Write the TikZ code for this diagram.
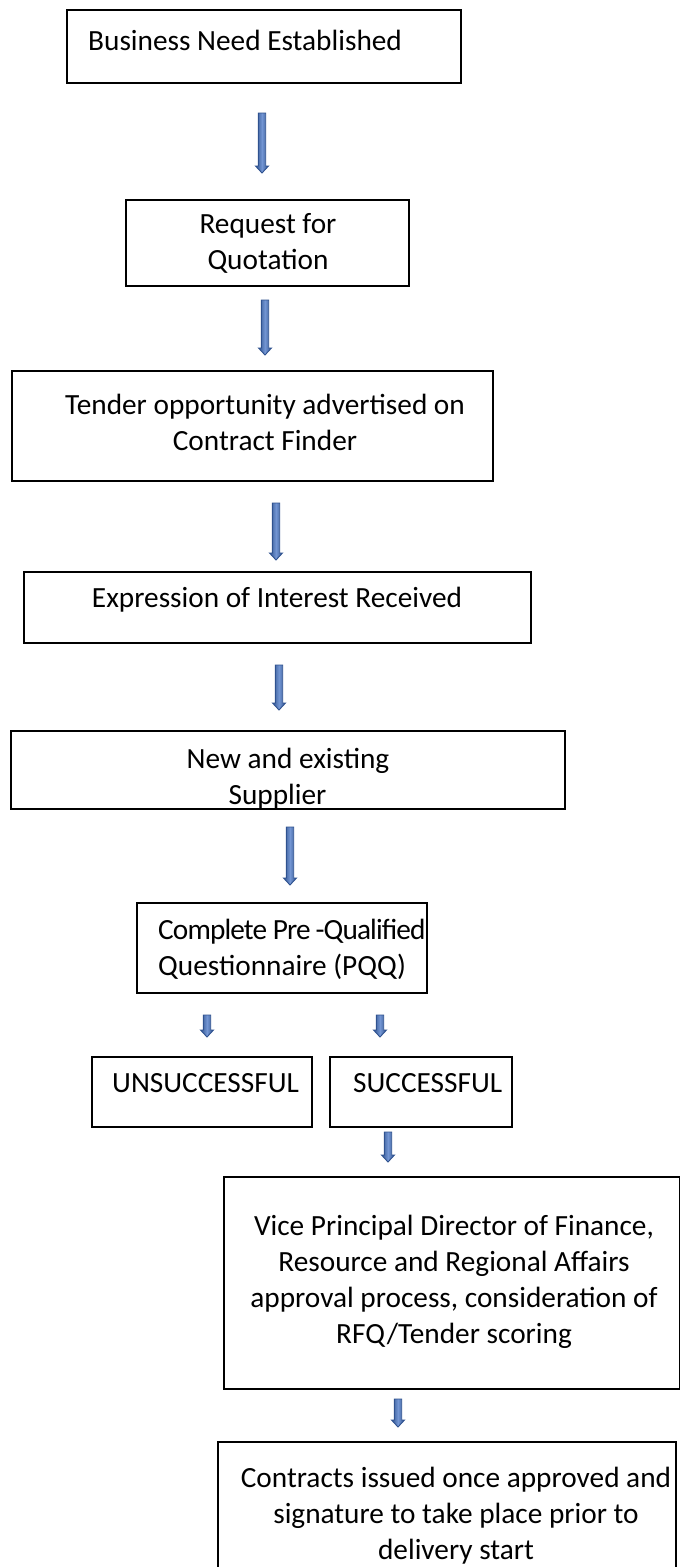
\documentclass[tikz,border=0pt]{standalone}
\usepackage{fontspec}
\setmainfont{Carlito}
\definecolor{arrowfill}{HTML}{4472C4}
\definecolor{arrowline}{HTML}{2F528F}
\tikzset{
  box/.style={draw=black, line width=1.6pt, inner sep=0pt, rectangle},
  txt/.style={font=\fontsize{29.3}{36}\selectfont, inner sep=0pt, align=center},
  arrowbody/.style={draw=arrowline, line width=0.9pt, line join=miter,
    left color=arrowline, right color=arrowline, middle color=arrowfill!75!white},
  pics/downarr/.style={code={
    \path[arrowbody] (-3.7,0) -- (-3.7,#1-7) -- (-6.5,#1-7) -- (0,#1) -- (6.5,#1-7) -- (3.7,#1-7) -- (3.7,0) -- cycle;
  }},
}
\begin{document}
\begin{tikzpicture}[x=1pt,y=-1pt]
\useasboundingbox (0,0) rectangle (680,1567);
% boxes
\node[box, minimum width=394, minimum height=73] (b1) at (264,46.5) {};
\node[box, minimum width=283, minimum height=86] (b2) at (267.5,243) {};
\node[box, minimum width=481, minimum height=110] (b3) at (252.5,426) {};
\node[box, minimum width=507, minimum height=71] (b4) at (277.5,607.5) {};
\node[box, minimum width=554, minimum height=78] (b5) at (288,770) {};
\node[box, minimum width=290, minimum height=90] (b6) at (282,948) {};
\node[box, minimum width=220, minimum height=70] (b7) at (202,1092) {};
\node[box, minimum width=182, minimum height=70] (b8) at (421,1092) {};
\node[box, minimum width=456, minimum height=212] (b9) at (452,1283) {};
\node[box, minimum width=458, minimum height=140] (b10) at (447,1512) {};
% texts
\node[txt, anchor=west] (t1) at (88,40) {Business Need Established};
\node[txt] (t2) at (268,243) {Request for\\Quotation};
\node[txt] (t3) at (265,422) {Tender opportunity advertised on\\Contract Finder};
\node[txt] (t4) at (277,600) {Expression of Interest Received};
\node[txt] (t5) at (288,779) {New and existing\\Supplier\hspace*{21pt}};
\node[txt, anchor=west, align=left] (t6) at (158,949) {{\addfontfeature{LetterSpace=-3}Complete Pre\,-Qualified}\\Questionnaire (PQQ)};
\node[txt, anchor=west] (t7) at (112,1083) {UNSUCCESSFUL};
\node[txt, anchor=west] (t8) at (353,1083) {SUCCESSFUL};
\node[txt] (t9) at (454,1282) {Vice Principal Director of Finance,\\Resource and Regional Affairs\\approval process, consideration of\\RFQ/Tender scoring};
\node[txt] (t10) at (456,1516) {Contracts issued once approved and\\signature to take place prior to\\delivery start};
% arrows
\pic (a1) at (262,113) {downarr=60};
\pic (a2) at (265,300) {downarr=55};
\pic (a3) at (276,503) {downarr=57};
\pic (a4) at (279,665) {downarr=45};
\pic (a5) at (290,827) {downarr=58};
\pic (a6) at (207,1015) {downarr=22};
\pic (a7) at (380,1015) {downarr=22};
\pic (a8) at (388,1132) {downarr=30};
\pic (a9) at (398,1399) {downarr=28};
\end{tikzpicture}
\end{document}
